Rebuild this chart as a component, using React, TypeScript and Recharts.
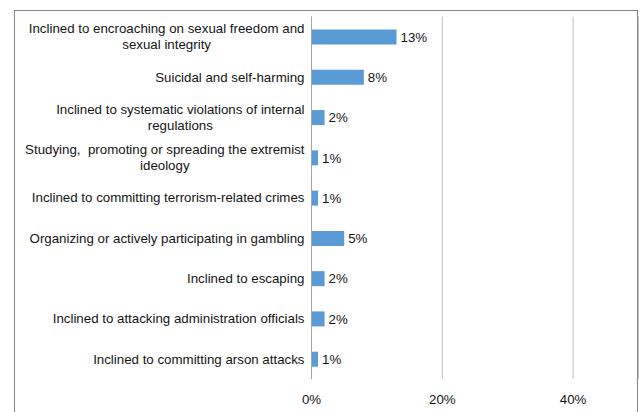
import { BarChart, Bar, XAxis, YAxis, CartesianGrid, LabelList } from "recharts";

const categories = [
  "Inclined to encroaching on sexual freedom and sexual integrity",
  "Suicidal and self-harming",
  "Inclined to systematic violations of internal regulations",
  "Studying,  promoting or spreading the extremist ideology",
  "Inclined to committing terrorism-related crimes",
  "Organizing or actively participating in gambling",
  "Inclined to escaping",
  "Inclined to attacking administration officials",
  "Inclined to committing arson attacks",
];
const shares = [13, 8, 2, 1, 1, 5, 2, 2, 1];
const xTicks = [0, 20, 40];

const data = categories.map((name, i) => ({ name, share: shares[i] }));

const FONT_FAMILY = '"Liberation Sans", Arial, sans-serif';
const FONT_SIZE = 13.3;
const TEXT = "#141414";

let ctx: CanvasRenderingContext2D | null = null;
function measure(s: string) {
  if (!ctx) ctx = document.createElement("canvas").getContext("2d");
  if (!ctx) return s.length * 6.5;
  ctx.font = `${FONT_SIZE}px ${FONT_FAMILY}`;
  return ctx.measureText(s).width;
}

function wrap(text: string, maxWidth: number) {
  const words = text.split(" ");
  const lines: string[] = [];
  let line = "";
  for (const w of words) {
    const next = line === "" ? w : `${line} ${w}`;
    if (line !== "" && w !== "" && measure(next) > maxWidth) {
      lines.push(line.trimEnd());
      line = w;
    } else {
      line = next;
    }
  }
  if (line) lines.push(line);
  return lines;
}

function CategoryTick({ x, y, payload }: any) {
  const lines = wrap(String(payload.value), 290);
  const lineHeight = 16;
  const top = y - ((lines.length - 1) * lineHeight) / 2;
  if (lines.length === 1) {
    return (
      <text
        x={x}
        y={y}
        dy="0.355em"
        textAnchor="end"
        fontSize={FONT_SIZE}
        fontFamily={FONT_FAMILY}
        fill={TEXT}
        style={{ whiteSpace: "pre" }}
      >
        {lines[0]}
      </text>
    );
  }
  // wrapped labels: lines centred on each other, block aligned right
  const blockWidth = Math.max(...lines.map(measure));
  const cx = x - blockWidth / 2;
  return (
    <g>
      {lines.map((l, i) => (
        <text
          key={i}
          x={cx}
          y={top + i * lineHeight}
          dy="0.355em"
          textAnchor="middle"
          fontSize={FONT_SIZE}
          fontFamily={FONT_FAMILY}
          fill={TEXT}
          style={{ whiteSpace: "pre" }}
        >
          {l}
        </text>
      ))}
    </g>
  );
}

export default function App() {
  return (
    <div
      style={{
        position: "absolute",
        left: 0,
        top: 0,
        width: 640,
        height: 412,
        overflow: "hidden",
        background: "#fff",
      }}
    >
      {/* chart frame, bottom edge falls outside the picture */}
      <div
        style={{
          position: "absolute",
          left: 14,
          top: 10,
          width: 624,
          height: 430,
          boxSizing: "border-box",
          border: "1px solid #858585",
        }}
      />
      <div style={{ position: "absolute", left: 0, top: 0 }}>
        <BarChart
          width={640}
          height={412}
          data={data}
          layout="vertical"
          margin={{ top: 16.5, right: 1.5, bottom: 0, left: 0 }}
        >
          <CartesianGrid horizontal={false} stroke="#C0C0C0" />
          <XAxis
            type="number"
            domain={[0, 50]}
            ticks={xTicks}
            tickFormatter={(v) => `${v}%`}
            axisLine={false}
            tickLine={false}
            tickMargin={10}
            height={33}
            tick={{ fontSize: FONT_SIZE, fontFamily: FONT_FAMILY, fill: TEXT }}
          />
          <YAxis
            type="category"
            dataKey="name"
            width={311.5}
            interval={0}
            axisLine={{ stroke: "#A6A6A6" }}
            tickLine={false}
            tickSize={0}
            tickMargin={7}
            tick={<CategoryTick />}
          />
          <Bar dataKey="share" fill="#5B9BD5" barSize={15} isAnimationActive={false}>
            <LabelList
              dataKey="share"
              position="right"
              offset={4}
              formatter={(v: any) => `${v}%`}
              style={{ fontSize: FONT_SIZE, fontFamily: FONT_FAMILY, fill: TEXT }}
            />
          </Bar>
        </BarChart>
      </div>
    </div>
  );
}
